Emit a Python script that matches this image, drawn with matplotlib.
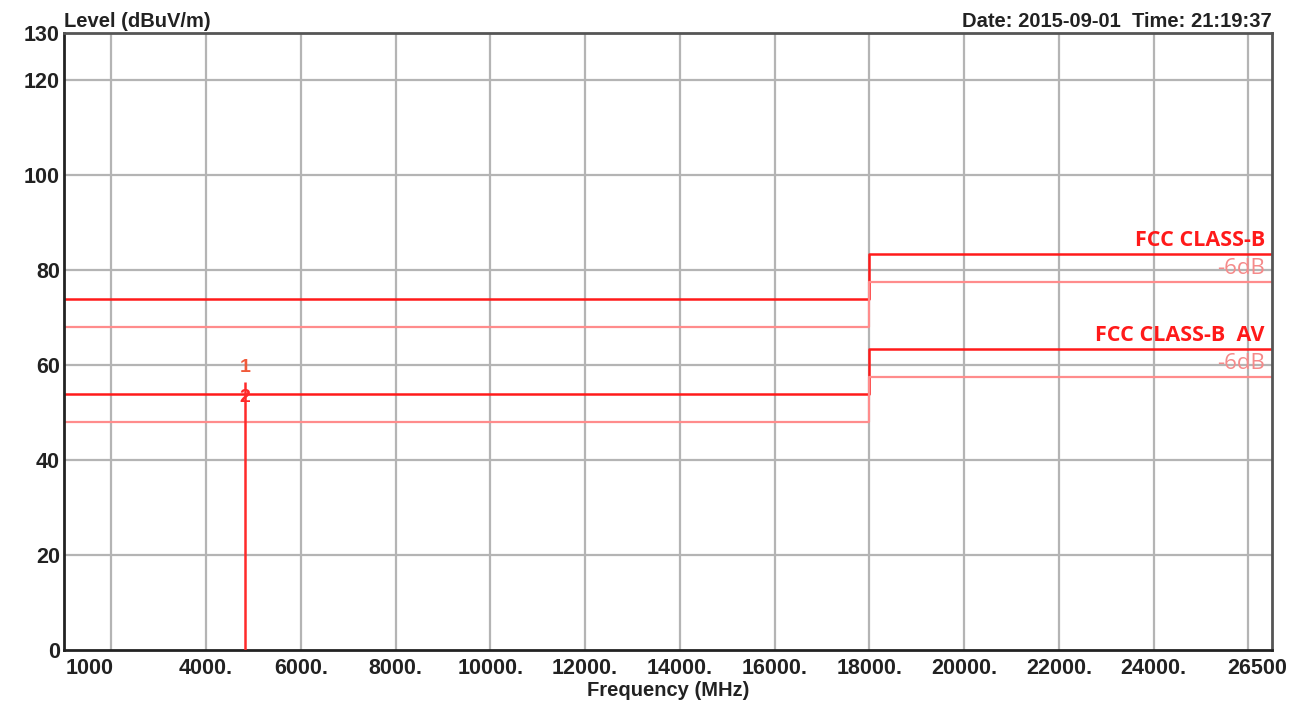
import numpy as np
import matplotlib
matplotlib.use('Agg')
import matplotlib.pyplot as plt

# limit lines (MHz, dBuV/m)
limit_freq = [1000, 18000, 18000, 26500]
fcc_b = [74, 74, 83.5, 83.5]
fcc_b_6db = [68, 68, 77.5, 77.5]
fcc_av = [54, 54, 63.5, 63.5]
fcc_av_6db = [48, 48, 57.5, 57.5]

# measured point
peak_freq = 4824
peak_level = 56.5
marker_labels = ['1', '2']
marker_levels = [59.5, 53.3]

x_ticks = [4000, 6000, 8000, 10000, 12000, 14000, 16000, 18000, 20000, 22000, 24000]
x_grid = list(range(2000, 26001, 2000))
y_ticks = [0, 20, 40, 60, 80, 100, 120, 130]

plt.rcParams['font.family'] = ['Liberation Sans', 'DejaVu Sans']

fig = plt.figure(figsize=(13.07, 7.06), dpi=100, facecolor='white')
ax = fig.add_axes([64/1307, 1-650/706, (1272-64)/1307, (650-33)/706])

# grid
for gx in x_grid:
    ax.axvline(gx, color='#b4b4b4', lw=1.6, zorder=0)
for gy in y_ticks[1:-1]:
    ax.axhline(gy, color='#b4b4b4', lw=1.6, zorder=0)

ax.plot(limit_freq, fcc_b, color='#ff1a1a', lw=1.8, zorder=2)
ax.plot(limit_freq, fcc_b_6db, color='#ff8c8c', lw=1.6, zorder=2)
ax.plot(limit_freq, fcc_av, color='#ff1a1a', lw=1.8, zorder=2)
ax.plot(limit_freq, fcc_av_6db, color='#ff8c8c', lw=1.6, zorder=2)

ax.vlines(peak_freq, 0, peak_level, color='#ff2a2a', lw=1.8, zorder=3)
for lab, lv, c in zip(marker_labels, marker_levels, ['#f05a3a', '#ff2a2a']):
    ax.text(peak_freq, lv, lab, color=c, fontsize=14, fontweight='bold',
            ha='center', va='center', zorder=4)

lab_font = ['Open Sans', 'DejaVu Sans']
ax.text(26350, fcc_b[-1] + 0.5, 'FCC CLASS-B', color='#ff1a1a', fontsize=15.5,
        fontweight='bold', ha='right', va='bottom', family=lab_font)
ax.text(26350, 80.4, '-6dB', color='#f58a8a', fontsize=16,
        ha='right', va='center', family=lab_font)
ax.text(26350, fcc_av[-1] + 0.5, 'FCC CLASS-B  AV', color='#ff1a1a', fontsize=15.5,
        fontweight='bold', ha='right', va='bottom', family=lab_font)
ax.text(26350, 60.4, '-6dB', color='#f58a8a', fontsize=16,
        ha='right', va='center', family=lab_font)

ax.set_xlim(1000, 26500)
ax.set_ylim(0, 130)

tick_kw = dict(fontsize=15.5, fontweight='bold', color='#222222')
ax.set_xticks(x_ticks)
ax.set_xticklabels([f'{t}.' for t in x_ticks], **tick_kw)
ax.set_yticks(y_ticks)
ax.set_yticklabels([str(t) for t in y_ticks], **tick_kw)
ax.tick_params(length=0, pad=3)
ax.tick_params(axis='x', pad=6)

ax.annotate('1000', xy=(1000, 0), xytext=(1, -6), textcoords='offset points',
            ha='left', va='top', **tick_kw)
ax.annotate('26500', xy=(26500, 0), xytext=(-11, -6), textcoords='offset points',
            ha='center', va='top', **tick_kw)

for s in ['left', 'bottom']:
    ax.spines[s].set_color('#222222')
    ax.spines[s].set_linewidth(2)
for s in ['top', 'right']:
    ax.spines[s].set_color('#555555')
    ax.spines[s].set_linewidth(2)

lab_kw = dict(fontsize=14.5, fontweight='bold', color='#222222')
ax.text(0, 1.003, 'Level (dBuV/m)', transform=ax.transAxes, ha='left', va='bottom', **lab_kw)
ax.text(1, 1.003, 'Date: 2015-09-01  Time: 21:19:37', transform=ax.transAxes,
        ha='right', va='bottom', **lab_kw)
ax.set_xlabel('Frequency (MHz)', labelpad=1, **lab_kw)

fig.savefig('out.png', dpi=100, facecolor='white')
